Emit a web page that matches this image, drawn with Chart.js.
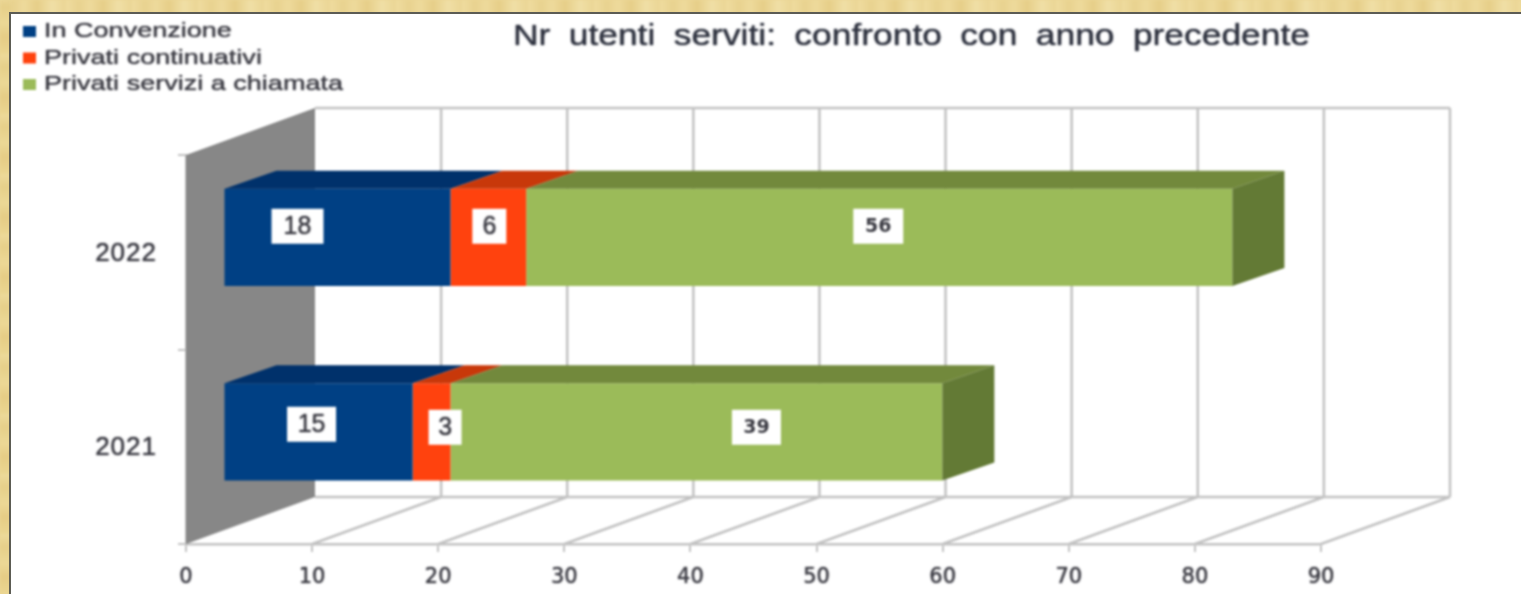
<!DOCTYPE html>
<html>
<head>
<meta charset="utf-8">
<style>
html,body{margin:0;padding:0;width:1521px;height:594px;overflow:hidden;background:#ecd795;}
#goldTop{position:absolute;left:0;top:0;width:1521px;height:14px;filter:blur(1.5px);
 background:repeating-linear-gradient(90deg,#efdca0 0,#e8d28f 13px,#eeda9c 24px,#e6ce88 37px,#f0dfa6 52px,#ead594 66px);}
#goldLeft{position:absolute;left:0;top:0;width:11px;height:594px;filter:blur(1.5px);
 background:repeating-linear-gradient(0deg,#ebd691 0,#e5cc85 17px,#ecd896 31px,#e6cf89 47px,#edda9b 60px);}
#panel{position:absolute;left:9px;top:12px;width:1512px;height:582px;box-sizing:border-box;background:#fff;
 border-left:2px solid #5c5c54;border-top:2px solid #5c5c54;}
#c{position:absolute;left:0;top:0;filter:blur(0.8px);}
</style>
<script src="https://cdn.jsdelivr.net/npm/chart.js@4"></script>
</head>
<body>
<div id="goldTop"></div><div id="goldLeft"></div><div id="panel"></div>
<canvas id="c" width="1521" height="594"></canvas>
<script>
const titleText = 'Nr utenti serviti: confronto con anno precedente';
const years = ['2022', '2021'];
const seriesNames = ['In Convenzione', 'Privati continuativi', 'Privati servizi a chiamata'];
const inConvenzione = [18, 15];
const privatiContinuativi = [6, 3];
const privatiChiamata = [56, 39];

const frontColors = ['#004084', '#ff420e', '#9bbb59'];
const topColors = ['#00316b', '#c8380a', '#72893c'];
const sideColors = ['#00316b', '#c8380a', '#637a35'];
const labelNudgeX = [[-40, -7], [1, 13.5], [-1, 60]];
const labelNudgeY = [[-11, -7.5], [-11, -4.5], [-11, -4.5]];
const labelBoxW = [[52, 49], [34, 33], [50, 49]];

const TEXT = '#3c3c44';
const GRID = '#c2c2c2';
const WALL = {dx: 129, dy: -47};
const BAR = {dx: 37.5, dy: -15};
const FACE = {dx: 52, dy: -18};

function poly(ctx, pts, fill) {
  ctx.beginPath();
  pts.forEach((p, i) => i ? ctx.lineTo(p[0], p[1]) : ctx.moveTo(p[0], p[1]));
  ctx.closePath();
  ctx.fillStyle = fill;
  ctx.fill();
}
function heavy(ctx, color) {
  ctx.shadowColor = color;
  ctx.shadowBlur = 1.5;
}

const scene3d = {
  id: 'scene3d',
  afterLayout(chart) {
    const t = chart.titleBlock;
    t.left = 513; t.right = 1310;
    if (!t._wrapped) {
      t._wrapped = true;
      const d = t.draw.bind(t);
      t.draw = function () {
        const ctx = chart.ctx;
        ctx.save();
        ctx.font = '29px "Liberation Sans"';
        ctx.wordSpacing = '7px';
        const w = ctx.measureText(titleText).width;
        const k = 797 / w;
        ctx.translate(513, 0); ctx.scale(k, 1); ctx.translate(-513, 0);
        heavy(ctx, '#2a2e3a');
        d();
        ctx.restore();
      };
      const ys = chart.scales.y;
      const dl = ys.drawLabels.bind(ys);
      ys.drawLabels = function (a) {
        const ctx = chart.ctx;
        ctx.save();
        ctx.letterSpacing = '1px';
        ctx.translate(0, 1.5);
        heavy(ctx, TEXT);
        dl(a);
        ctx.restore();
      };
      const xs = chart.scales.x;
      const xl = xs.drawLabels.bind(xs);
      xs.drawLabels = function (a) {
        const ctx = chart.ctx;
        ctx.save();
        heavy(ctx, TEXT);
        xl(a);
        ctx.restore();
      };
    }
  },
  beforeDatasetsDraw(chart) {
    const {ctx, scales: {x, y}, chartArea: a} = chart;
    ctx.save();
    const left = a.left, bottom = a.bottom, top = a.top;
    poly(ctx, [[left, top], [left + WALL.dx, top + WALL.dy], [left + WALL.dx, bottom + WALL.dy], [left, bottom]], '#878787');
    ctx.strokeStyle = GRID; ctx.lineWidth = 2.5;
    const vals = x.ticks.map(t => t.value);
    const bx = v => x.getPixelForValue(v) + WALL.dx;
    ctx.beginPath();
    ctx.moveTo(bx(vals[0]), top + WALL.dy);
    ctx.lineTo(bx(vals[vals.length - 1]), top + WALL.dy);
    ctx.moveTo(bx(vals[0]), bottom + WALL.dy);
    ctx.lineTo(bx(vals[vals.length - 1]), bottom + WALL.dy);
    vals.forEach((v, i) => {
      if (i > 0) {
        ctx.moveTo(bx(v), top + WALL.dy);
        ctx.lineTo(bx(v), bottom + WALL.dy);
        ctx.moveTo(x.getPixelForValue(v), bottom);
        ctx.lineTo(bx(v), bottom + WALL.dy);
      }
    });
    ctx.stroke();
    ctx.restore();
    ctx.save();
    ctx.translate(BAR.dx, BAR.dy);
  },
  afterDatasetsDraw(chart) {
    const ctx = chart.ctx;
    ctx.restore();
    ctx.save();
    const metas = chart.data.datasets.map((_, i) => chart.getDatasetMeta(i));
    metas.forEach((m, s) => {
      m.data.forEach((el) => {
        const x0 = el.base + BAR.dx, x1 = el.x + BAR.dx;
        const yT = el.y - el.height / 2 + BAR.dy, yB = el.y + el.height / 2 + BAR.dy;
        poly(ctx, [[x0, yT], [x1, yT], [x1 + FACE.dx, yT + FACE.dy], [x0 + FACE.dx, yT + FACE.dy]], topColors[s]);
        if (s === metas.length - 1) {
          poly(ctx, [[x1, yT], [x1 + FACE.dx, yT + FACE.dy], [x1 + FACE.dx, yB + FACE.dy], [x1, yB]], sideColors[s]);
        }
      });
    });
    metas.forEach((m, s) => {
      m.data.forEach((el, i) => {
        const cx = (el.base + el.x) / 2 + BAR.dx + labelNudgeX[s][i];
        const cy = el.y + BAR.dy + labelNudgeY[s][i];
        const w = labelBoxW[s][i], h = 35;
        ctx.fillStyle = '#fff';
        ctx.fillRect(cx - w / 2, cy - h / 2, w, h);
        ctx.save();
        ctx.font = s === 2 ? 'bold 19px "DejaVu Sans"' : '25px "Liberation Sans"';
        ctx.fillStyle = TEXT;
        ctx.textAlign = 'center';
        ctx.textBaseline = 'middle';
        if (s !== 2) heavy(ctx, TEXT);
        ctx.fillText(String(chart.data.datasets[s].data[i]), cx, cy + 1);
        ctx.restore();
      });
    });
    const rows = [31.5, 58, 84.5];
    ctx.font = '21px "Liberation Sans"';
    ctx.textBaseline = 'middle';
    ctx.textAlign = 'left';
    const longest = ctx.measureText(seriesNames[2]).width;
    const k = 299 / longest;
    chart.data.datasets.forEach((d, i) => {
      ctx.fillStyle = d.backgroundColor;
      ctx.fillRect(23, rows[i] - 5.5, 13, 11);
      ctx.save();
      ctx.translate(44, rows[i]);
      ctx.scale(k, 1);
      ctx.fillStyle = TEXT;
      heavy(ctx, TEXT);
      ctx.fillText(d.label, 0, 0);
      ctx.restore();
    });
    ctx.restore();
  }
};

new Chart(document.getElementById('c'), {
  type: 'bar',
  plugins: [scene3d],
  data: {
    labels: years,
    datasets: [
      {label: seriesNames[0], data: inConvenzione, backgroundColor: frontColors[0]},
      {label: seriesNames[1], data: privatiContinuativi, backgroundColor: frontColors[1]},
      {label: seriesNames[2], data: privatiChiamata, backgroundColor: frontColors[2]}
    ]
  },
  options: {
    indexAxis: 'y',
    responsive: false,
    animation: false,
    layout: {padding: {left: 0, right: 200, top: 0, bottom: 0}},
    datasets: {bar: {barPercentage: 0.5, categoryPercentage: 1, borderWidth: 0, clip: false}},
    plugins: {
      legend: {display: false},
      tooltip: {enabled: false},
      title: {
        display: true,
        text: titleText,
        align: 'start',
        color: '#2f3340',
        font: {family: '"Liberation Sans"', size: 29, weight: 'normal'},
        padding: {top: 19.6, bottom: 100.6}
      }
    },
    scales: {
      x: {
        stacked: true, min: 0, max: 90,
        afterFit(s) { s.height = 50; },
        ticks: {stepSize: 10, color: TEXT, padding: 13, maxRotation: 0, autoSkip: false,
          font: {family: '"DejaVu Sans"', size: 21}},
        grid: {drawOnChartArea: false, color: GRID, tickLength: 8, lineWidth: 2},
        border: {color: GRID, width: 2.5}
      },
      y: {
        stacked: true,
        afterFit(s) { s.width = 186; },
        ticks: {color: TEXT, padding: 21, font: {family: '"Liberation Sans"', size: 26}},
        grid: {drawOnChartArea: false, offset: true, color: GRID, tickLength: 8, lineWidth: 2},
        border: {color: GRID, width: 2}
      }
    }
  }
});
</script>
</body>
</html>
